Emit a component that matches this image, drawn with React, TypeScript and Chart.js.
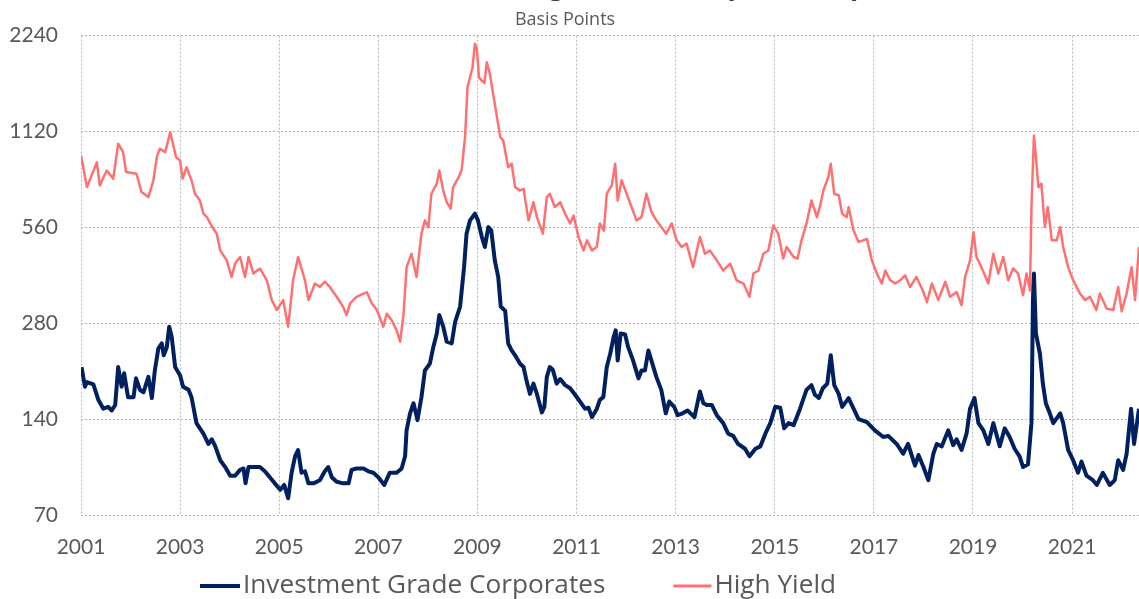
import React, { useEffect, useRef } from "react";
import { Chart, registerables } from "chart.js";

Chart.register(...registerables);

// ---- Data (decimal year, basis points) ----
const igDates = [
  2001.01, 2001.08, 2001.12, 2001.25, 2001.35, 2001.45, 2001.55, 2001.62, 2001.69, 2001.75,
  2001.82, 2001.87, 2001.95, 2002.06, 2002.11, 2002.19, 2002.26, 2002.36, 2002.43, 2002.49,
  2002.56, 2002.63, 2002.67, 2002.73, 2002.78, 2002.83, 2002.9, 2003.0, 2003.06, 2003.17,
  2003.23, 2003.33, 2003.4, 2003.47, 2003.57, 2003.64, 2003.71, 2003.81, 2003.91, 2004.01,
  2004.11, 2004.21, 2004.28, 2004.32, 2004.38, 2004.48, 2004.61, 2004.71, 2004.81, 2004.91,
  2005.02, 2005.1, 2005.18, 2005.25, 2005.32, 2005.38, 2005.45, 2005.52, 2005.59, 2005.69,
  2005.82, 2005.92, 2005.99, 2006.06, 2006.16, 2006.29, 2006.4, 2006.46, 2006.56, 2006.7,
  2006.8, 2006.9, 2007.0, 2007.12, 2007.23, 2007.37, 2007.47, 2007.54, 2007.57, 2007.64,
  2007.71, 2007.79, 2007.87, 2007.94, 2008.04, 2008.11, 2008.18, 2008.23, 2008.31, 2008.38,
  2008.48, 2008.55, 2008.65, 2008.73, 2008.78, 2008.85, 2008.95, 2009.01, 2009.09, 2009.15,
  2009.22, 2009.28, 2009.35, 2009.42, 2009.47, 2009.56, 2009.62, 2009.69, 2009.76, 2009.86,
  2009.93, 2009.99, 2010.06, 2010.13, 2010.2, 2010.3, 2010.35, 2010.4, 2010.46, 2010.52,
  2010.6, 2010.67, 2010.77, 2010.87, 2010.97, 2011.07, 2011.17, 2011.24, 2011.31, 2011.41,
  2011.47, 2011.54, 2011.61, 2011.68, 2011.75, 2011.79, 2011.83, 2011.89, 2011.98, 2012.04,
  2012.14, 2012.25, 2012.31, 2012.38, 2012.45, 2012.51, 2012.61, 2012.71, 2012.8, 2012.87,
  2012.97, 2013.04, 2013.14, 2013.24, 2013.38, 2013.49, 2013.56, 2013.63, 2013.73, 2013.83,
  2013.96, 2014.06, 2014.16, 2014.26, 2014.4, 2014.49, 2014.61, 2014.71, 2014.81, 2014.91,
  2015.01, 2015.11, 2015.19, 2015.28, 2015.38, 2015.51, 2015.64, 2015.74, 2015.81, 2015.89,
  2015.97, 2016.06, 2016.13, 2016.2, 2016.29, 2016.36, 2016.49, 2016.59, 2016.69, 2016.86,
  2017.02, 2017.19, 2017.29, 2017.46, 2017.59, 2017.69, 2017.83, 2017.9, 2018.0, 2018.1,
  2018.2, 2018.27, 2018.37, 2018.5, 2018.6, 2018.67, 2018.77, 2018.87, 2018.94, 2019.03,
  2019.11, 2019.21, 2019.31, 2019.41, 2019.54, 2019.64, 2019.74, 2019.84, 2019.94, 2020.01,
  2020.11, 2020.18, 2020.21, 2020.23, 2020.27, 2020.35, 2020.41, 2020.47, 2020.55, 2020.62,
  2020.76, 2020.82, 2020.92, 2021.02, 2021.12, 2021.19, 2021.29, 2021.42, 2021.5, 2021.62,
  2021.76, 2021.86, 2021.93, 2022.03, 2022.1, 2022.19, 2022.25, 2022.35,
];
const igValues = [
  204, 177, 183, 180, 161, 151, 153, 149, 155, 204,
  177, 195, 164, 164, 188, 173, 170, 190, 163, 199,
  233, 242, 222, 235, 273, 254, 204, 192, 177, 173,
  164, 136, 131, 126, 117, 121, 115, 104, 99, 93,
  93, 97, 98, 88, 99, 99, 99, 96, 92, 88,
  84, 87, 79, 95, 107, 112, 95, 96, 88, 88,
  90, 96, 99, 92, 89, 88, 88, 97, 98, 98,
  96, 95, 92, 87, 95, 95, 98, 107, 129, 146,
  157, 139, 164, 199, 209, 236, 260, 297, 273, 245,
  242, 283, 316, 420, 535, 589, 618, 589, 522, 486,
  561, 547, 441, 391, 316, 306, 242, 230, 222, 209,
  204, 185, 168, 181, 168, 147, 153, 190, 204, 200,
  181, 187, 179, 175, 167, 159, 151, 152, 142, 151,
  161, 164, 204, 225, 254, 266, 214, 260, 258, 236,
  214, 188, 199, 199, 230, 214, 190, 173, 146, 159,
  153, 144, 146, 149, 142, 171, 157, 155, 155, 144,
  136, 126, 124, 117, 113, 107, 113, 115, 126, 136,
  153, 152, 131, 136, 134, 151, 173, 179, 167, 163,
  175, 181, 222, 179, 168, 153, 163, 151, 140, 137,
  129, 123, 124, 117, 109, 117, 100, 108, 99, 90,
  109, 117, 115, 129, 116, 121, 112, 126, 151, 163,
  136, 129, 117, 136, 115, 131, 123, 113, 107, 99,
  101, 136, 331, 401, 260, 225, 181, 157, 146, 136,
  146, 136, 112, 104, 95, 103, 93, 90, 87, 95,
  87, 90, 104, 97, 109, 151, 117, 151,
];

const hyDates = [
  2001.0, 2001.12, 2001.32, 2001.38, 2001.52, 2001.65, 2001.75, 2001.85, 2001.91, 2002.12,
  2002.22, 2002.36, 2002.46, 2002.53, 2002.59, 2002.7, 2002.8, 2002.92, 2003.0, 2003.05,
  2003.13, 2003.23, 2003.3, 2003.4, 2003.47, 2003.54, 2003.67, 2003.74, 2003.81, 2003.94,
  2004.04, 2004.11, 2004.21, 2004.31, 2004.38, 2004.48, 2004.61, 2004.75, 2004.85, 2004.95,
  2005.08, 2005.18, 2005.28, 2005.38, 2005.52, 2005.59, 2005.72, 2005.82, 2005.92, 2006.02,
  2006.16, 2006.29, 2006.36, 2006.43, 2006.56, 2006.7, 2006.77, 2006.87, 2006.97, 2007.1,
  2007.17, 2007.27, 2007.37, 2007.44, 2007.51, 2007.57, 2007.67, 2007.77, 2007.87, 2007.94,
  2008.01, 2008.07, 2008.18, 2008.23, 2008.31, 2008.38, 2008.46, 2008.51, 2008.62, 2008.68,
  2008.75, 2008.8, 2008.85, 2008.9, 2008.95, 2008.99, 2009.03, 2009.09, 2009.14, 2009.19,
  2009.25, 2009.35, 2009.46, 2009.52, 2009.62, 2009.69, 2009.76, 2009.86, 2009.93, 2010.03,
  2010.13, 2010.2, 2010.32, 2010.4, 2010.46, 2010.56, 2010.67, 2010.77, 2010.87, 2010.94,
  2011.04, 2011.14, 2011.21, 2011.31, 2011.41, 2011.47, 2011.55, 2011.61, 2011.71, 2011.78,
  2011.83, 2011.91, 2012.01, 2012.11, 2012.21, 2012.31, 2012.41, 2012.51, 2012.61, 2012.71,
  2012.81, 2012.92, 2013.02, 2013.12, 2013.22, 2013.35, 2013.49, 2013.59, 2013.69, 2013.83,
  2013.96, 2014.1, 2014.23, 2014.37, 2014.49, 2014.57, 2014.67, 2014.77, 2014.87, 2014.97,
  2015.07, 2015.17, 2015.24, 2015.38, 2015.46, 2015.54, 2015.64, 2015.74, 2015.85, 2015.91,
  2015.98, 2016.08, 2016.13, 2016.2, 2016.29, 2016.36, 2016.45, 2016.49, 2016.59, 2016.69,
  2016.86, 2016.96, 2017.06, 2017.16, 2017.23, 2017.33, 2017.43, 2017.53, 2017.63, 2017.73,
  2017.86, 2018.0, 2018.07, 2018.17, 2018.3, 2018.44, 2018.54, 2018.67, 2018.77, 2018.84,
  2018.94, 2019.01, 2019.07, 2019.17, 2019.31, 2019.41, 2019.51, 2019.61, 2019.71, 2019.81,
  2019.91, 2020.01, 2020.08, 2020.15, 2020.18, 2020.23, 2020.27, 2020.32, 2020.38, 2020.45,
  2020.51, 2020.59, 2020.69, 2020.76, 2020.82, 2020.92, 2021.02, 2021.16, 2021.26, 2021.36,
  2021.49, 2021.56, 2021.7, 2021.83, 2021.93, 2022.0, 2022.1, 2022.2, 2022.27, 2022.35,
];
const hyValues = [
  941, 749, 897, 758, 845, 796, 1025, 965, 835, 825,
  723, 697, 787, 930, 989, 965, 1114, 930, 908, 796,
  865, 787, 714, 680, 618, 603, 554, 535, 474, 441,
  391, 431, 452, 391, 452, 401, 416, 382, 331, 308,
  331, 273, 382, 452, 382, 331, 373, 364, 378, 364,
  339, 315, 297, 323, 339, 347, 350, 323, 308, 273,
  300, 286, 266, 245, 300, 420, 463, 391, 535, 589,
  561, 714, 768, 845, 731, 672, 641, 749, 805, 845,
  1075, 1543, 1657, 1782, 2110, 2032, 1657, 1618, 1590, 1848,
  1700, 1368, 1075, 1050, 865, 887, 749, 731, 740, 589,
  672, 603, 535, 697, 714, 649, 672, 618, 576, 610,
  522, 474, 510, 474, 486, 576, 547, 714, 758, 887,
  680, 787, 714, 649, 589, 603, 714, 626, 589, 561,
  535, 576, 510, 486, 498, 420, 522, 463, 474, 441,
  410, 431, 382, 373, 339, 401, 410, 463, 474, 568,
  535, 447, 486, 452, 447, 510, 576, 680, 603, 649,
  731, 805, 887, 714, 706, 618, 603, 649, 547, 504,
  515, 441, 401, 373, 410, 382, 373, 382, 396, 364,
  391, 351, 326, 373, 331, 378, 339, 351, 319, 391,
  441, 541, 452, 420, 373, 463, 401, 452, 382, 416,
  401, 343, 401, 355, 649, 1087, 930, 749, 768, 561,
  649, 510, 510, 561, 486, 420, 382, 347, 331, 339,
  308, 347, 311, 308, 364, 305, 347, 420, 331, 486,
];

const seriesLabels = ["Investment Grade Corporates", "High Yield"];
const seriesColors = ["#002060", "#FF7171"];
const yTickValues = [70, 140, 280, 560, 1120, 2240];
const xTickYears = [2001, 2003, 2005, 2007, 2009, 2011, 2013, 2015, 2017, 2019, 2021];
const xMin = 2001;
const xMax = 2022.35;
const titleText = "Investment Grade and High Yield Corporate Spreads";
const subtitleText = "Basis Points";

const FONT = "Lato, 'Open Sans', 'DejaVu Sans', sans-serif";
const LEGEND_FONT = "'Open Sans', Lato, 'DejaVu Sans', sans-serif";
const TEXT_COLOR = "#595959";
const GRID_COLOR = "#b5b5b5";

const decorPlugin = {
  id: "decor",
  afterDraw(chart: any) {
    const ctx = chart.ctx as CanvasRenderingContext2D;
    ctx.save();
    // Cut-off title (only descenders visible)
    ctx.fillStyle = "#404040";
    ctx.textBaseline = "alphabetic";
    ctx.textAlign = "left";
    ctx.font = `bold 100px ${FONT}`;
    const gIdx = titleText.indexOf("High") + 2;
    const pIdx = titleText.indexOf("Corporate") + 3;
    const centerOf = (i: number) =>
      ctx.measureText(titleText.slice(0, i)).width + ctx.measureText(titleText[i]).width / 2;
    const d100 = centerOf(pIdx) - centerOf(gIdx);
    const size = (181 / d100) * 100;
    ctx.font = `bold ${size.toFixed(1)}px ${FONT}`;
    const x0 = 556 - centerOf(gIdx);
    ctx.fillText(titleText, x0, -4);

    // Subtitle
    ctx.fillStyle = TEXT_COLOR;
    ctx.font = `18px ${LEGEND_FONT}`;
    ctx.textAlign = "center";
    ctx.textBaseline = "middle";
    ctx.fillText(subtitleText, 565, 20);

    // Legend
    ctx.font = `25px ${LEGEND_FONT}`;
    const w0 = ctx.measureText(seriesLabels[0]).width;
    const fs = Math.min(27, (25 * 363) / w0);
    ctx.font = `${fs.toFixed(1)}px ${LEGEND_FONT}`;
    ctx.textAlign = "left";
    const ly = 586;
    let lx = 200;
    const widths = [4, 3];
    const lineLens = [40, 38];
    seriesLabels.forEach((label, i) => {
      ctx.strokeStyle = seriesColors[i];
      ctx.lineWidth = widths[i];
      ctx.beginPath();
      ctx.moveTo(lx, ly);
      ctx.lineTo(lx + lineLens[i], ly);
      ctx.stroke();
      lx += lineLens[i] + 3;
      ctx.fillStyle = TEXT_COLOR;
      ctx.fillText(label, lx, ly);
      lx += ctx.measureText(label).width + 68;
    });
    ctx.restore();
  },
};

export default function App() {
  const ref = useRef<HTMLCanvasElement | null>(null);
  useEffect(() => {
    if (!ref.current) return;
    const chart = new Chart(ref.current, {
      type: "line",
      data: {
        datasets: [
          {
            label: seriesLabels[0],
            data: igDates.map((d, i) => ({ x: d, y: igValues[i] })),
            borderColor: seriesColors[0],
            backgroundColor: seriesColors[0],
            borderWidth: 4,
            pointRadius: 0,
            tension: 0,
            fill: false,
            borderJoinStyle: "round",
          },
          {
            label: seriesLabels[1],
            data: hyDates.map((d, i) => ({ x: d, y: hyValues[i] })),
            borderColor: seriesColors[1],
            backgroundColor: seriesColors[1],
            borderWidth: 2.5,
            pointRadius: 0,
            tension: 0,
            fill: false,
            borderJoinStyle: "round",
          },
        ],
      },
      options: {
        responsive: false,
        animation: false,
        layout: { padding: { top: 35, bottom: 39, left: 0, right: 0 } },
        plugins: {
          legend: { display: false },
          title: { display: false },
          tooltip: { enabled: false },
        },
        scales: {
          x: {
            type: "linear",
            min: xMin,
            max: xMax,
            afterBuildTicks: (s: any) => {
              s.ticks = xTickYears.map((v) => ({ value: v }));
            },
            afterFit: (s: any) => {
              s.height = 45;
            },
            ticks: {
              callback: (v: any) => String(v),
              font: { family: FONT, size: 21 },
              color: TEXT_COLOR,
              padding: 20,
              maxRotation: 0,
              autoSkip: false,
              includeBounds: false,
            },
            grid: { color: GRID_COLOR, drawTicks: false, lineWidth: 1 },
            border: { display: false, dash: [2, 2] },
          },
          y: {
            type: "logarithmic",
            min: 70,
            max: 2240,
            afterBuildTicks: (s: any) => {
              s.ticks = yTickValues.map((v) => ({ value: v }));
            },
            afterFit: (s: any) => {
              s.width = 81;
            },
            ticks: {
              callback: (v: any) => String(v),
              font: { family: FONT, size: 21 },
              color: TEXT_COLOR,
              padding: 23,
              autoSkip: false,
            },
            grid: { color: GRID_COLOR, drawTicks: false, lineWidth: 1 },
            border: { display: false, dash: [2, 2] },
          },
        },
      } as any,
      plugins: [decorPlugin],
    });
    return () => chart.destroy();
  }, []);
  return (
    <div style={{ position: "absolute", left: 0, top: 0, width: 1139, height: 599, background: "#fff" }}>
      <canvas ref={ref} width={1139} height={599} style={{ display: "block" }} />
    </div>
  );
}
